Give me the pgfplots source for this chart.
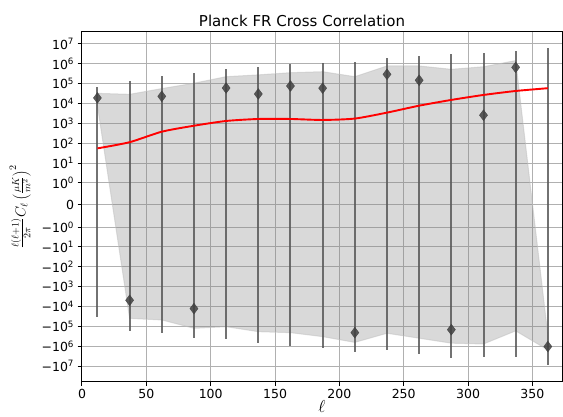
\documentclass[border=0pt]{standalone}
\usepackage{pgfplots}
\pgfplotsset{compat=1.18}
\usepackage{pgfplotstable}
\usepackage{fontspec}
\setmainfont{DejaVu Sans}

% Values are given on the symmetric-log scale of the chart:
% y' = sign(y) (1.111 + log10|y|) for |y| >= 1, so 10^k sits at 1.111 + k.
\pgfplotstableread{
l    y      top    bot
12   5.39   5.93  -5.62
37  -4.80   6.26  -6.33
62   5.47   6.50  -6.46
87  -5.22   6.63  -6.71
112  5.89   6.83  -6.76
137  5.59   6.95  -6.96
162  5.99   7.11  -7.08
187  5.88   7.17  -7.18
212 -6.43   7.20  -7.39
237  6.58   7.40  -7.30
262  6.28   7.50  -7.50
287 -6.28   7.62  -7.72
312  4.52   7.64  -7.67
337  6.93   7.77  -7.67
362 -7.13   7.91  -8.07
}\points

\pgfplotstableread{
l    y
12   2.85
37   3.16
62   3.69
87   3.99
112  4.23
137  4.33
162  4.33
187  4.28
212  4.35
237  4.65
262  5.00
287  5.29
312  5.54
337  5.74
362  5.88
}\theory

\pgfplotstableread{
l    y
12   5.62
37   5.57
62   5.86
87   6.13
112  6.46
137  6.55
162  6.66
187  6.71
212  6.46
237  7.00
262  7.00
287  6.83
312  6.96
337  7.27
362 -6.55
362 -7.30
337 -6.34
312 -7.00
287 -6.96
262 -6.71
237 -6.46
212 -6.92
187 -6.63
162 -6.43
137 -6.38
112 -6.13
87  -6.21
62  -5.79
37  -5.71
12   5.00
}\band

\begin{document}
\begin{tikzpicture}
\begin{axis}[
  name=ax,
  scale only axis, width=480pt, height=349.7pt,
  xmin=0, xmax=373, ymin=-8.90, ymax=8.71,
  xtick={0,50,...,350},
  ytick={-8.111,-7.111,-6.111,-5.111,-4.111,-3.111,-2.111,-1.111,0,1.111,2.111,3.111,4.111,5.111,6.111,7.111,8.111},
  yticklabels={−10\textsuperscript{7},−10\textsuperscript{6},−10\textsuperscript{5},−10\textsuperscript{4},−10\textsuperscript{3},−10\textsuperscript{2},−10\textsuperscript{1},−10\textsuperscript{0},0,10\textsuperscript{0},10\textsuperscript{1},10\textsuperscript{2},10\textsuperscript{3},10\textsuperscript{4},10\textsuperscript{5},10\textsuperscript{6},10\textsuperscript{7}},
  /pgf/number format/assume math mode=true,
  tick label style={font=\fontsize{12.5}{15}\selectfont},
  xtick pos=left, ytick pos=left,
  tick align=outside, major tick length=4.4pt,
  tick style={black, line width=1pt},
  axis line style={black, line width=1pt},
  grid=major,
  grid style={color=gray!62, line width=1pt},
  title={Planck FR Cross Correlation},
  title style={font=\fontsize{15}{18}\selectfont, xshift=-20pt, yshift=-4pt},
  xlabel={$\ell$},
  xlabel style={font=\fontsize{17}{19}\selectfont, yshift=5pt},
  ylabel={$\frac{\ell(\ell+1)}{2\pi}C_\ell\left(\frac{\mu K}{m^2}\right)^2$},
  ylabel style={font=\fontsize{14}{16}\selectfont, yshift=4pt},
]
\addplot[fill=gray, fill opacity=0.3, draw=gray!50, draw opacity=0.5, line width=1pt]
  table[x=l, y=y] {\band} -- cycle;
\addplot[only marks, mark=diamond*, mark size=5.4pt,
  mark options={fill=black!75, draw=black!75, opacity=0.85},
  error bars/.cd, y dir=both, y explicit,
  error bar style={line width=2pt, black!65, opacity=0.85},
  error mark=none]
  table[x=l, y=y, y error plus expr=\thisrow{top}-\thisrow{y}, y error minus expr=\thisrow{y}-\thisrow{bot}] {\points};
\addplot[red, line width=1.9pt, smooth, tension=0.4, no marks] table[x=l, y=y] {\theory};
\end{axis}
\pgfresetboundingbox
\path[use as bounding box] (ax.south west) ++(-82pt,-35.3pt) rectangle ++(563pt,417pt);
\end{tikzpicture}
\end{document}
